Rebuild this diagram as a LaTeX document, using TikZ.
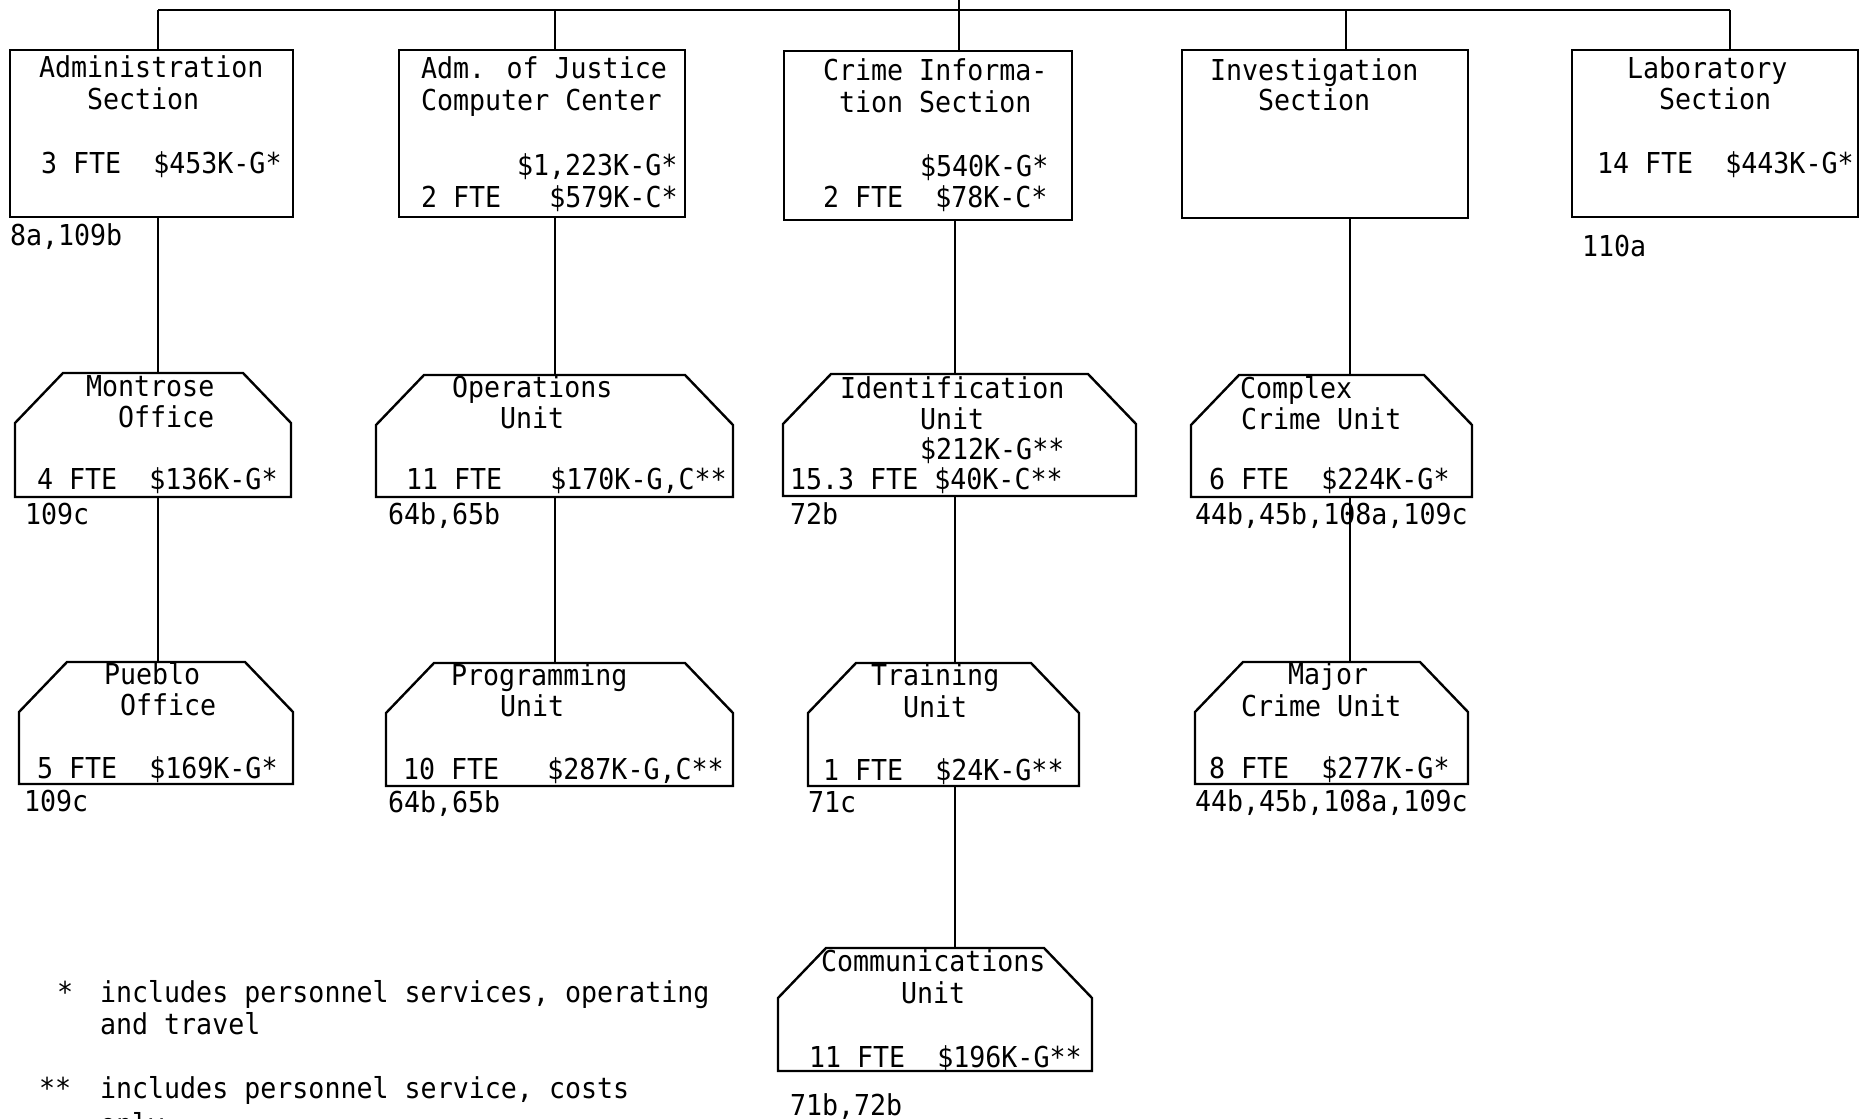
\documentclass[tikz,border=0pt]{standalone}
\usepackage{fontspec}
\usetikzlibrary{fit,calc}
\newfontfamily\tw[FakeStretch=0.925]{DejaVu Sans Mono}
\newcommand\chamfer[1]{\draw[conn,line join=miter] (#1.south west) -- ([yshift=-50pt]#1.north west) -- ([xshift=48pt]#1.north west) -- ([xshift=-48pt]#1.north east) -- ([yshift=-50pt]#1.north east) -- (#1.south east) -- cycle;}
\begin{document}
\begin{tikzpicture}[x=1pt,y=-1pt,
  conn/.style={line width=2.4pt},
  secbox/.style={draw, line width=2.4pt, inner sep=0pt, outer sep=0pt},
  unitbox/.style={inner sep=0pt, outer sep=0pt},
  txt/.style={anchor=base west, inner sep=0pt, outer sep=0pt, font=\tw\fontsize{28.8}{33}\selectfont}]
\useasboundingbox (0,0) rectangle (1866,1119);
\clip (0,0) rectangle (1866,1119);
% column coordinates
\coordinate (top) at (959,0);
\coordinate (c1) at (158,10);
\coordinate (c2) at (555,10);
\coordinate (c3) at (959,10);
\coordinate (c3l) at (955,10);
\coordinate (c4) at (1346,10);
\coordinate (c4l) at (1350,10);
\coordinate (c5) at (1730,10);
% section boxes
\node[secbox, fit={(10,50) (293,217)}] (admin) {};
\node[secbox, fit={(399,50) (685,217)}] (ajcc) {};
\node[secbox, fit={(784,51) (1072,220)}] (crime) {};
\node[secbox, fit={(1182,50) (1468,218)}] (invest) {};
\node[secbox, fit={(1572,50) (1858,217)}] (lab) {};
% unit shapes
\node[unitbox, fit={(15,373) (291,497)}] (mont) {};
\node[unitbox, fit={(376,375) (733,497)}] (ops) {};
\node[unitbox, fit={(783,374) (1136,496)}] (ident) {};
\node[unitbox, fit={(1191,375) (1472,497)}] (cplx) {};
\node[unitbox, fit={(19,662) (293,784)}] (pueblo) {};
\node[unitbox, fit={(386,663) (733,786)}] (prog) {};
\node[unitbox, fit={(808,663) (1079,786)}] (train) {};
\node[unitbox, fit={(1195,662) (1468,784)}] (major) {};
\node[unitbox, fit={(778,948) (1092,1071)}] (comms) {};
\foreach \n in {mont,ops,ident,cplx,pueblo,prog,train,major,comms} {\chamfer{\n}}
% connectors
\draw[conn] (c1) -- (c5);
\draw[conn] (top) -- (top |- crime.north);
\draw[conn] (c1) -- (c1 |- admin.north);
\draw[conn] (c2) -- (c2 |- ajcc.north);
\draw[conn] (c4) -- (c4 |- invest.north);
\draw[conn] (c5) -- (c5 |- lab.north);
\draw[conn] (admin.south -| c1) -- (mont.north -| c1);
\draw[conn] (mont.south -| c1) -- (pueblo.north -| c1);
\draw[conn] (ajcc.south -| c2) -- (ops.north -| c2);
\draw[conn] (ops.south -| c2) -- (prog.north -| c2);
\draw[conn] (crime.south -| c3l) -- (ident.north -| c3l);
\draw[conn] (ident.south -| c3l) -- (train.north -| c3l);
\draw[conn] (train.south -| c3l) -- (comms.north -| c3l);
\draw[conn] (invest.south -| c4l) -- (cplx.north -| c4l);
\draw[conn] (cplx.south -| c4l) -- (major.north -| c4l);
% texts: administration
\node[txt] (a1) at (39,77) {Administration};
\node[txt] (a2) at (87,109) {Section};
\node[txt] (a3) at (41,173) {3 FTE~~\$453K-G*};
\node[txt] (a4) at (10,245) {8a,109b};
% ajcc
\node[txt] (j1) at (421,78) {Adm. of Justice};
\node[txt] (j2) at (421,110) {Computer Center};
\node[txt] (j3) at (517,175) {\$1,223K-G*};
\node[txt] (j4) at (421,207) {2 FTE~~~\$579K-C*};
% crime
\node[txt] (k1) at (823,80) {Crime Informa-};
\node[txt] (k2) at (839,112) {tion Section};
\node[txt] (k3) at (920,176) {\$540K-G*};
\node[txt] (k4) at (823,207) {2 FTE~~\$78K-C*};
% investigation
\node[txt] (i1) at (1210,80) {Investigation};
\node[txt] (i2) at (1258,110) {Section};
% lab
\node[txt] (l1) at (1627,78) {Laboratory};
\node[txt] (l2) at (1659,109) {Section};
\node[txt] (l3) at (1597,173) {14 FTE~~\$443K-G*};
\node[txt] (l4) at (1582,256) {110a};
% montrose
\node[txt] (m1) at (86,396) {Montrose};
\node[txt] (m2) at (118,427) {Office};
\node[txt] (m3) at (37,489) {4 FTE~~\$136K-G*};
\node[txt] (m4) at (25,524) {109c};
% operations
\node[txt] (o1) at (452,397) {Operations};
\node[txt] (o2) at (500,428) {Unit};
\node[txt] (o3) at (406,489) {11 FTE~~~\$170K-G,C**};
\node[txt] (o4) at (388,524) {64b,65b};
% identification
\node[txt] (d1) at (840,398) {Identification};
\node[txt] (d2) at (920,429) {Unit};
\node[txt] (d3) at (920,459) {\$212K-G**};
\node[txt] (d4) at (790,489) {15.3 FTE \$40K-C**};
\node[txt] (d5) at (790,524) {72b};
% complex
\node[txt] (x1) at (1240,398) {Complex};
\node[txt] (x2) at (1241,429) {Crime Unit};
\node[txt] (x3) at (1209,489) {6 FTE~~\$224K-G*};
\node[txt] (x4) at (1195,524) {44b,45b,108a,109c};
% pueblo
\node[txt] (p1) at (104,684) {Pueblo};
\node[txt] (p2) at (120,715) {Office};
\node[txt] (p3) at (37,778) {5 FTE~~\$169K-G*};
\node[txt] (p4) at (24,811) {109c};
% programming
\node[txt] (g1) at (451,685) {Programming};
\node[txt] (g2) at (500,716) {Unit};
\node[txt] (g3) at (403,779) {10 FTE~~~\$287K-G,C**};
\node[txt] (g4) at (388,812) {64b,65b};
% training
\node[txt] (r1) at (871,685) {Training};
\node[txt] (r2) at (903,717) {Unit};
\node[txt] (r3) at (823,780) {1 FTE~~\$24K-G**};
\node[txt] (r4) at (808,812) {71c};
% major
\node[txt] (y1) at (1288,684) {Major};
\node[txt] (y2) at (1241,716) {Crime Unit};
\node[txt] (y3) at (1209,778) {8 FTE~~\$277K-G*};
\node[txt] (y4) at (1195,811) {44b,45b,108a,109c};
% communications
\node[txt] (q1) at (821,971) {Communications};
\node[txt] (q2) at (901,1003) {Unit};
\node[txt] (q3) at (809,1067) {11 FTE~~\$196K-G**};
\node[txt] (q4) at (790,1115) {71b,72b};
% footnotes
\node[txt] (f1) at (57,1002) {*};
\node[txt] (f2) at (100,1002) {includes personnel services, operating};
\node[txt] (f3) at (100,1034) {and travel};
\node[txt] (f4) at (39,1098) {**};
\node[txt] (f5) at (100,1098) {includes personnel service, costs};
\node[txt] (f6) at (100,1134) {only};
\end{tikzpicture}
\end{document}
